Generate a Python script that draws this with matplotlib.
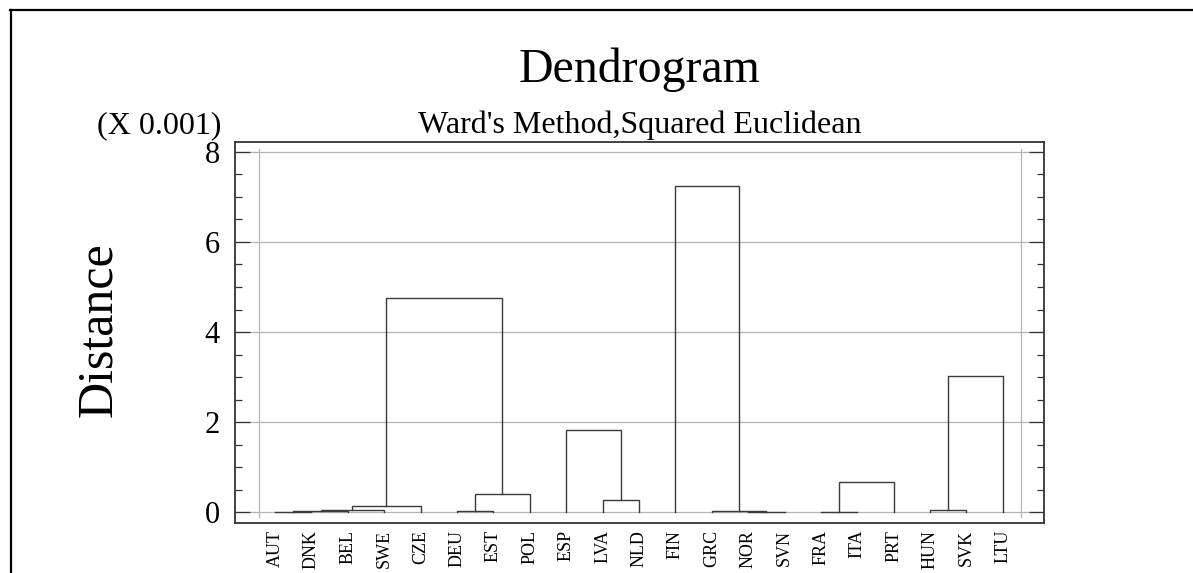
import matplotlib
matplotlib.use("Agg")
import matplotlib.pyplot as plt
from matplotlib.lines import Line2D
from matplotlib.ticker import MultipleLocator

plt.rcParams['font.family'] = ['Liberation Serif', 'DejaVu Serif']

# ---- data ----
leaves = ['AUT', 'DNK', 'BEL', 'SWE', 'CZE', 'DEU', 'EST', 'POL', 'ESP', 'LVA', 'NLD',
          'FIN', 'GRC', 'NOR', 'SVN', 'FRA', 'ITA', 'PRT', 'HUN', 'SVK', 'LTU']
# merge k creates cluster "C{k+1}" from link_a[k] and link_b[k] at heights[k]
link_a = ['AUT', 'C1', 'C2', 'C3', 'DEU', 'C5', 'C4', 'LVA', 'ESP', 'NOR', 'GRC', 'FIN',
          'FRA', 'C13', 'HUN', 'C15']
link_b = ['DNK', 'BEL', 'SWE', 'CZE', 'EST', 'POL', 'C6', 'NLD', 'C8', 'SVN', 'C10', 'C11',
          'ITA', 'PRT', 'SVK', 'LTU']
heights = [0.005, 0.02, 0.05, 0.13, 0.02, 0.39, 4.76, 0.26, 1.82, 0.01, 0.025, 7.25,
           0.005, 0.67, 0.045, 3.02]
y_ticks = [0, 2, 4, 6, 8]

W, H = 1193, 573
fig = plt.figure(figsize=(W / 100, H / 100), dpi=100)
fig.patch.set_facecolor('white')

def fx(px):
    return px / W

def fy(py):
    return 1 - py / H

ax = fig.add_axes([fx(235), fy(523), fx(1044) - fx(235), fy(142) - fy(523)])

# positions & heights of clusters
pos = {name: i for i, name in enumerate(leaves)}
hgt = {name: 0.0 for name in leaves}
line_col = '#3a3a3a'
for k, (a, b, h) in enumerate(zip(link_a, link_b, heights)):
    xa, xb = pos[a], pos[b]
    ax.plot([xa, xa, xb, xb], [hgt[a], h, h, hgt[b]], color=line_col, lw=1.0,
            solid_joinstyle='miter', zorder=3)
    name = f'C{k + 1}'
    pos[name] = (xa + xb) / 2
    hgt[name] = h

ax.set_xlim(-1.1, 21.13)
ax.set_ylim(-0.244, 8.222)

# grid / inner frame
for yv in y_ticks:
    ax.axhline(yv, color='#b5b5b5', lw=0.9, zorder=1)
for xv in (-0.44, 20.49):
    ax.plot([xv, xv], [-0.12, 8.07], color='#b5b5b5', lw=0.9, zorder=1)

ax.set_xticks(range(len(leaves)))
ax.set_xticklabels(leaves, rotation=90, fontsize=13, va='top')
ax.tick_params(axis='x', length=0, pad=5)

ax.set_yticks(y_ticks)
ax.yaxis.set_minor_locator(MultipleLocator(0.5))
ax.tick_params(axis='y', which='major', direction='in', length=11, width=0.9,
               color='#333333', labelsize=22, pad=11, right=True)
ax.tick_params(axis='y', which='minor', direction='in', length=5, width=0.9,
               color='#333333', right=True)

for s in ax.spines.values():
    s.set_color('#333333')
    s.set_linewidth(1.3)

# titles and labels
fig.text(fx(640), fy(82), 'Dendrogram', ha='center', va='baseline', fontsize=34.5)
fig.text(fx(640), fy(133), "Ward's Method,Squared Euclidean", ha='center',
         va='baseline', fontsize=23)
fig.text(fx(221), fy(133), '(X 0.001)', ha='right', va='baseline', fontsize=23)
fig.text(fx(99), fy(330), 'Distance', ha='center', va='center', rotation=90,
         fontsize=36)

# outer frame (top and left edges)
fig.add_artist(Line2D([fx(10), 1], [fy(10), fy(10)], transform=fig.transFigure,
                      color='black', lw=1.6))
fig.add_artist(Line2D([fx(11), fx(11)], [fy(10), 0], transform=fig.transFigure,
                      color='black', lw=1.6))

fig.savefig('out.png', dpi=100, facecolor='white')
